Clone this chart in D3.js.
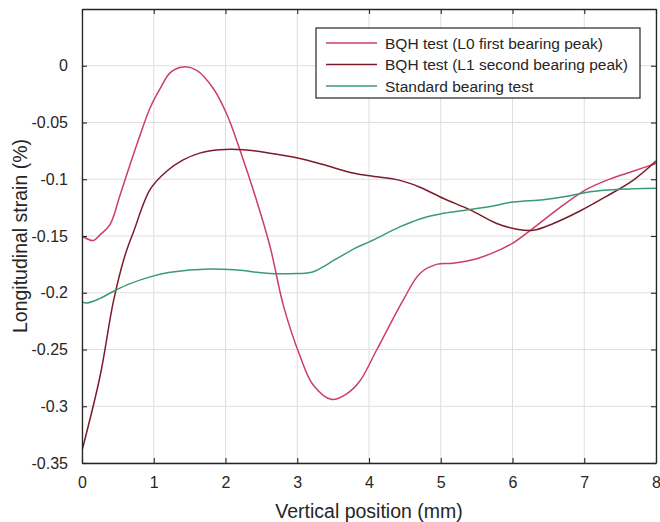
<!DOCTYPE html>
<html>
<head>
<meta charset="utf-8">
<script src="https://cdn.jsdelivr.net/npm/d3@7"></script>
<style>
  body { margin: 0; background: #fff; }
  text { font-family: "Liberation Sans", Arial, sans-serif; fill: #262626; }
</style>
</head>
<body>
<div id="chart"></div>
<script>
// 1: DATA
const xTicks = [0, 1, 2, 3, 4, 5, 6, 7, 8];
const yTicks = [0, -0.05, -0.1, -0.15, -0.2, -0.25, -0.3, -0.35];

const seriesNames = [
    "BQH test (L0 first bearing peak)",
    "BQH test (L1 second bearing peak)",
    "Standard bearing test"
];
const seriesColors = ["#cc3d6a", "#7b1c2c", "#3a9a72"];

const l0X = [0, 0.16, 0.25, 0.39, 0.53, 0.67, 0.81, 0.95, 1.09, 1.23, 1.41, 1.60, 1.83, 2.02, 2.20, 2.43, 2.62, 2.81, 3.04, 3.22, 3.48, 3.69, 3.87, 4.11, 4.48, 4.71, 4.94, 5.17, 5.50, 5.83, 6.01, 6.29, 6.66, 7.03, 7.31, 7.68, 8.0];
const l0Y = [-0.150, -0.154, -0.149, -0.140, -0.114, -0.087, -0.061, -0.037, -0.020, -0.006, -0.001, -0.004, -0.020, -0.043, -0.074, -0.118, -0.159, -0.212, -0.256, -0.281, -0.294, -0.289, -0.278, -0.250, -0.206, -0.183, -0.175, -0.174, -0.170, -0.162, -0.156, -0.143, -0.125, -0.109, -0.101, -0.093, -0.086];

const l1X = [0, 0.25, 0.44, 0.60, 0.72, 0.95, 1.18, 1.41, 1.64, 1.92, 2.25, 2.62, 2.99, 3.36, 3.74, 4.01, 4.43, 4.71, 5.04, 5.41, 5.78, 6.06, 6.29, 6.57, 6.94, 7.31, 7.68, 8.0];
const l1Y = [-0.339, -0.274, -0.207, -0.167, -0.146, -0.109, -0.093, -0.083, -0.077, -0.074, -0.074, -0.077, -0.081, -0.087, -0.094, -0.097, -0.101, -0.107, -0.117, -0.127, -0.139, -0.144, -0.145, -0.139, -0.128, -0.115, -0.101, -0.084];

const stdX = [0, 0.07, 0.25, 0.46, 0.67, 0.95, 1.23, 1.78, 2.16, 2.62, 2.99, 3.20, 3.55, 3.83, 4.01, 4.43, 4.71, 5.04, 5.36, 5.69, 6.01, 6.43, 6.76, 7.08, 7.45, 8.0];
const stdY = [-0.208, -0.209, -0.205, -0.198, -0.192, -0.186, -0.182, -0.179, -0.180, -0.183, -0.183, -0.182, -0.170, -0.160, -0.155, -0.142, -0.135, -0.130, -0.127, -0.124, -0.120, -0.118, -0.115, -0.111, -0.109, -0.108];

// 2: LAYOUT
const margin = { top: 9, right: 4, bottom: 59, left: 82 };
const width = 660 - margin.left - margin.right;
const height = 522 - margin.top - margin.bottom;

const svg = d3.select("#chart")
    .append("svg")
    .attr("width", width + margin.left + margin.right)
    .attr("height", height + margin.top + margin.bottom)
    .append("g")
    .attr("transform", `translate(${margin.left},${margin.top})`);

// 3: SCALES
const xScale = d3.scaleLinear().domain([0, 8]).range([0, width]);
const yScale = d3.scaleLinear().domain([-0.35, 0.05]).range([height, 0]);

// 4: GRID
svg.append("g")
    .selectAll("line")
    .data(xTicks)
    .enter().append("line")
    .attr("x1", d => xScale(d)).attr("x2", d => xScale(d))
    .attr("y1", 0).attr("y2", height)
    .style("stroke", "#dedede").style("stroke-width", 1);
svg.append("g")
    .selectAll("line")
    .data(yTicks)
    .enter().append("line")
    .attr("x1", 0).attr("x2", width)
    .attr("y1", d => yScale(d)).attr("y2", d => yScale(d))
    .style("stroke", "#dedede").style("stroke-width", 1);

// 5: LINES
svg.append("clipPath").attr("id", "clip")
    .append("rect").attr("width", width).attr("height", height);

const series = [
    { name: seriesNames[0], pts: l0X.map((x, i) => ({ x, y: l0Y[i] })) },
    { name: seriesNames[1], pts: l1X.map((x, i) => ({ x, y: l1Y[i] })) },
    { name: seriesNames[2], pts: stdX.map((x, i) => ({ x, y: stdY[i] })) }
];
const colorScale = d3.scaleOrdinal().domain(seriesNames).range(seriesColors);

const line = d3.line()
    .x(d => xScale(d.x))
    .y(d => yScale(d.y))
    .curve(d3.curveCatmullRom.alpha(0.5));

svg.append("g")
    .attr("clip-path", "url(#clip)")
    .selectAll("path")
    .data(series)
    .enter().append("path")
    .attr("d", d => line(d.pts))
    .style("fill", "none")
    .style("stroke", d => colorScale(d.name))
    .style("stroke-width", 1.5);

// 6: AXES (box with inward ticks on all sides)
const axisStyle = g => {
    g.select(".domain").style("stroke", "#262626").style("stroke-width", 1.3);
    g.selectAll(".tick line").style("stroke", "#262626").style("stroke-width", 1.1);
};

svg.append("g")
    .attr("transform", `translate(0, ${height})`)
    .call(d3.axisBottom(xScale).tickValues(xTicks).tickSizeInner(-5).tickSizeOuter(0).tickPadding(14))
    .call(axisStyle)
    .selectAll(".tick text").style("font-size", "16px");
svg.append("g")
    .call(d3.axisTop(xScale).tickValues(xTicks).tickSizeInner(-5).tickSizeOuter(0).tickFormat(""))
    .call(axisStyle);
svg.append("g")
    .call(d3.axisLeft(yScale).tickValues(yTicks).tickSizeInner(-5).tickSizeOuter(0).tickPadding(14).tickFormat(d => String(+d.toFixed(2))))
    .call(axisStyle)
    .selectAll(".tick text").style("font-size", "16px");
svg.append("g")
    .attr("transform", `translate(${width}, 0)`)
    .call(d3.axisRight(yScale).tickValues(yTicks).tickSizeInner(-5).tickSizeOuter(0).tickFormat(""))
    .call(axisStyle);

// 7: AXIS LABELS
svg.append("text")
    .text("Vertical position (mm)")
    .attr("x", width / 2)
    .attr("y", height + 55)
    .attr("text-anchor", "middle")
    .style("font-size", "19.5px");
svg.append("text")
    .text("Longitudinal strain (%)")
    .attr("transform", "rotate(-90)")
    .attr("x", -height / 2)
    .attr("y", -55)
    .attr("text-anchor", "middle")
    .style("font-size", "19.5px");

// 8: LEGEND
const lgX = 316 - margin.left, lgY = 28 - margin.top;
svg.append("rect")
    .attr("x", lgX).attr("y", lgY)
    .attr("width", 324).attr("height", 70)
    .style("fill", "#fff").style("stroke", "#262626").style("stroke-width", 1.2);

const legend = svg.selectAll(".legend")
    .data(seriesNames)
    .enter().append("g")
    .attr("class", "legend")
    .attr("transform", (d, i) => `translate(${lgX}, ${lgY + 15 + i * 21.5})`);
legend.append("line")
    .attr("x1", 10).attr("x2", 61)
    .style("stroke", d => colorScale(d)).style("stroke-width", 1.5);
legend.append("text")
    .text(d => d)
    .attr("x", 69)
    .attr("y", 5.5)
    .style("font-size", "15.5px");
</script>
</body>
</html>
